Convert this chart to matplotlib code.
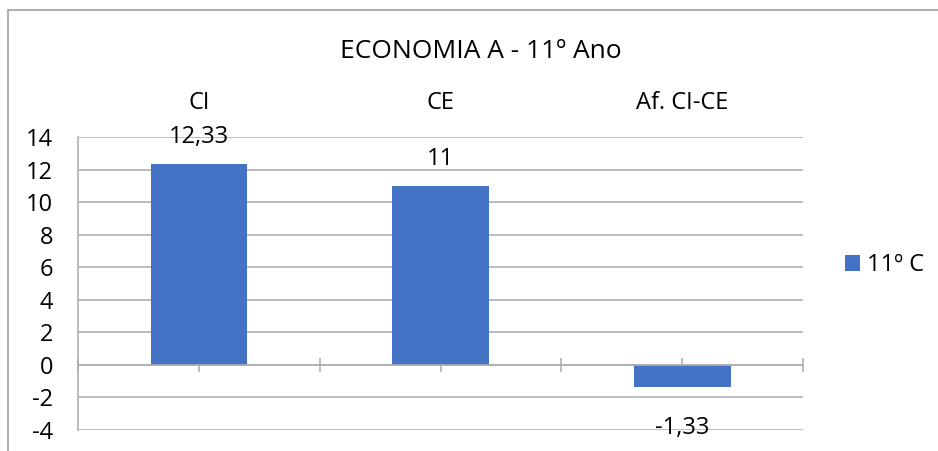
import matplotlib.pyplot as plt
import matplotlib.lines as mlines
import numpy as np

plt.rcParams['font.family'] = ['Open Sans', 'DejaVu Sans']
plt.rcParams['axes.unicode_minus'] = False

# dados
categorias = ["CI", "CE", "Af. CI-CE"]
valores = [12.33, 11, -1.33]
rotulos = ["12,33", "11", "-1,33"]
serie = "11º C"
titulo = "ECONOMIA A - 11º Ano"

azul = "#4472C4"
cinza = "#b0b0b0"
fs = 17

fig = plt.figure(figsize=(9.38, 4.51), dpi=100)
ax = fig.add_axes([78 / 938, 1 - 430 / 451, (803 - 78) / 938, (430 - 137) / 451])

x = np.arange(len(categorias))
barras = ax.bar(x, valores, width=0.4, color=azul, zorder=2, label=serie)

# rótulos de valor
for xi, v, r in zip(x, valores, rotulos):
    off = 19.5 if v >= 0 else -29.5
    ax.annotate(r, (xi, v), xytext=(0, off), textcoords="offset points",
                ha="center", va="center", fontsize=fs, color="black")

ax.set_xlim(-0.5, len(categorias) - 0.5)
ax.set_ylim(-4, 14)
ax.set_yticks(np.arange(-4, 15, 2))
ax.tick_params(axis="y", length=0, labelsize=fs, pad=18)

ax.yaxis.grid(True, color=cinza, linewidth=1.2)
ax.yaxis.set_zorder(0.5)

# eixo x em y=0 com marcas cruzadas
ax.spines["bottom"].set_position(("data", 0))
ax.spines["bottom"].set_color(cinza)
ax.spines["bottom"].set_linewidth(1.2)
ax.spines["left"].set_color(cinza)
ax.spines["left"].set_linewidth(1.2)
ax.spines["top"].set_visible(False)
ax.spines["right"].set_visible(False)
ax.set_xticks(np.arange(-0.5, len(categorias), 0.5))
ax.tick_params(axis="x", direction="inout", length=9.5, width=1.2,
               color=cinza, labelbottom=False)

# categorias em cima
sec = ax.secondary_xaxis("top")
sec.set_xticks(x)
sec.set_xticklabels(categorias, fontsize=fs)
sec.tick_params(length=0, pad=16)
sec.spines["top"].set_visible(False)

fig.text(481 / 938, 1 - 51 / 451, titulo, ha="center", va="center", fontsize=19)

# legenda
ax.legend(handles=[barras], loc="center left", bbox_to_anchor=(845 / 938, 1 - 265 / 451),
          bbox_transform=fig.transFigure, frameon=False, fontsize=fs,
          handlelength=0.65, handleheight=0.65, handletextpad=0.3,
          borderpad=0, borderaxespad=0)

# moldura do gráfico
fig.add_artist(mlines.Line2D([8 / 938, 1], [1 - 10 / 451, 1 - 10 / 451],
                             transform=fig.transFigure, color=cinza, linewidth=1.5))
fig.add_artist(mlines.Line2D([8 / 938, 8 / 938], [0, 1 - 10 / 451],
                             transform=fig.transFigure, color=cinza, linewidth=1.5))

fig.savefig("out.png", dpi=100)
